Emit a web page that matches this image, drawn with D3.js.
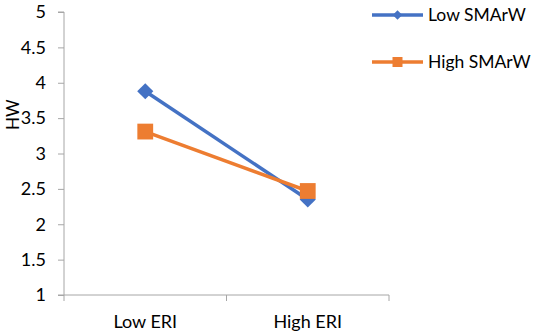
<!DOCTYPE html>
<html>
<head>
<meta charset="utf-8">
<script src="https://cdn.jsdelivr.net/npm/d3@7"></script>
<style>
  body { margin: 0; background: #fff; }
  text { font-family: Lato, "Open Sans", sans-serif; }
</style>
</head>
<body>
<div id="chart"></div>
<script>
const categories = ["Low ERI", "High ERI"];
const seriesNames = ["Low SMArW", "High SMArW"];
const lowSMArW = [3.88, 2.35];
const highSMArW = [3.31, 2.47];
const yTicks = [1, 1.5, 2, 2.5, 3, 3.5, 4, 4.5, 5];

const W = 536, H = 334;
const margin = {top: 12, right: 147, bottom: 39, left: 64};
const width = W - margin.left - margin.right;
const height = H - margin.top - margin.bottom;

const svg = d3.select("#chart").append("svg")
    .attr("width", W).attr("height", H);
const g = svg.append("g").attr("transform", `translate(${margin.left},${margin.top})`);

const x = d3.scaleBand().domain(categories).range([0, width]);
const y = d3.scaleLinear().domain([1, 5]).range([height, 0]);

// y axis
g.append("g")
    .call(d3.axisLeft(y).tickValues(yTicks).tickFormat(d => String(d)).tickSize(6).tickPadding(12))
    .call(a => a.select(".domain").attr("stroke", "#a6a6a6").attr("d", `M-6,0H0V${height}H-6`))
    .call(a => a.selectAll(".tick line").attr("stroke", "#a6a6a6"))
    .call(a => a.selectAll(".tick text").attr("font-size", "18px").attr("fill", "#000"));

// x axis
g.append("g")
    .attr("transform", `translate(0,${height})`)
    .call(d3.axisBottom(x).tickSize(0).tickPadding(20))
    .call(a => a.select(".domain").attr("stroke", "#a6a6a6").attr("d", `M0,0H${width}`))
    .call(a => a.selectAll(".tick text").attr("font-size", "18px").attr("fill", "#000"));

// x ticks at band boundaries
const bounds = [0, ...categories.slice(1).map(c => x(c)), width];
g.selectAll(".xb").data(bounds).enter().append("line")
    .attr("x1", d => d).attr("x2", d => d)
    .attr("y1", height).attr("y2", height + 6)
    .attr("stroke", "#a6a6a6");

// y label
svg.append("text")
    .attr("transform", `translate(19,${margin.top + y(3.55)}) rotate(-90)`)
    .attr("text-anchor", "middle")
    .attr("font-size", "17px")
    .text("HW");

const cx = c => x(c) + x.bandwidth() / 2;
const line = d3.line().x((d, i) => cx(categories[i])).y(d => y(d));

const series = [
  {name: seriesNames[0], values: lowSMArW, color: "#4472C4", shape: d3.symbolSquare, size: 130, rot: 45, legendSize: 45},
  {name: seriesNames[1], values: highSMArW, color: "#ED7D31", shape: d3.symbolSquare, size: 250, rot: 0, legendSize: 100}
];

series.forEach(s => {
  g.append("path").datum(s.values)
    .attr("fill", "none").attr("stroke", s.color).attr("stroke-width", 3.5)
    .attr("d", line);
  g.selectAll(null).data(s.values).enter().append("path")
    .attr("transform", (d, i) => `translate(${cx(categories[i])},${y(d)}) rotate(${s.rot})`)
    .attr("d", d3.symbol().type(s.shape).size(s.size))
    .attr("fill", s.color);
});

// legend
const legend = svg.append("g").attr("transform", "translate(372,15)");
series.forEach((s, i) => {
  const row = legend.append("g").attr("transform", `translate(0,${i * 47})`);
  row.append("line").attr("x1", 0).attr("x2", 51).attr("y1", 0).attr("y2", 0)
    .attr("stroke", s.color).attr("stroke-width", 3.5);
  row.append("path").attr("transform", `translate(25.5,0) rotate(${s.rot})`)
    .attr("d", d3.symbol().type(s.shape).size(s.legendSize))
    .attr("fill", s.color);
  row.append("text").attr("x", 56).attr("y", 0).attr("dy", "0.35em")
    .attr("font-size", "17.5px").text(s.name);
});
</script>
</body>
</html>
